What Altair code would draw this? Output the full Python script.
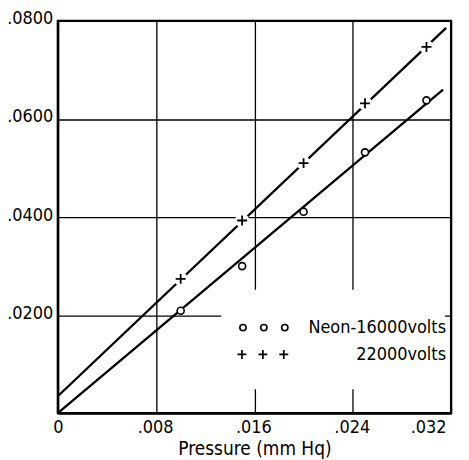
import altair as alt
import pandas as pd

# Measured data points (pressure in mm Hg)
pressure = [0.010, 0.015, 0.020, 0.025, 0.030]
neon_16000 = [0.0209, 0.0300, 0.0411, 0.0532, 0.0638]
neon_22000 = [0.0274, 0.0393, 0.0510, 0.0632, 0.0747]

# Fitted straight lines (end points)
fit16_x = [0.0, 0.03135]
fit16_y = [0.0, 0.0660]
fit22_x = [0.0, 0.0316]
fit22_y = [0.00345, 0.0786]

x_ticks = [0, 0.008, 0.016, 0.024, 0.032]
y_ticks = [0.02, 0.04, 0.06, 0.08]

legend_labels = ["Neon-16000volts", "22000volts"]

FONT = "'DejaVu Sans Condensed', 'Liberation Sans Narrow', 'DejaVu Sans', sans-serif"
PLUS = "M-1,0L1,0M0,-1L0,1"

pts = pd.DataFrame({"p": pressure, "a": neon_16000, "b": neon_22000})
l16 = pd.DataFrame({"p": fit16_x, "v": fit16_y})
l22 = pd.DataFrame({"p": fit22_x, "v": fit22_y})
mask = pd.DataFrame({"x": [0.0133], "x2": [0.0315], "y": [0.0049], "y2": [0.0252]})

xscale = alt.Scale(domain=[0, 0.032], nice=False, zero=True)
yscale = alt.Scale(domain=[0, 0.08], nice=False, zero=True)

xaxis = alt.Axis(
    values=x_ticks, title="Pressure (mm Hq)",
    labelExpr="datum.value == 0 ? '0' : replace(format(datum.value, '.3f'), '0.', '.')",
    grid=True, ticks=False, labelPadding=5,
    labelOffset={"condition": {"test": "datum.value > 0.031 || datum.value == 0", "value": -5}, "value": -1},
    titlePadding=3,
)
yaxis = alt.Axis(
    values=y_ticks, title=None,
    labelExpr="replace(format(datum.value, '.4f'), '0.', '.')",
    grid=True, ticks=False, labelPadding=5, labelOffset=-2,
)

base = alt.Chart(pts)

grid_layer = alt.Chart(mask).mark_rect(color="white").encode(
    x=alt.X("x:Q", scale=xscale, axis=xaxis),
    x2="x2:Q",
    y=alt.Y("y:Q", scale=yscale, axis=yaxis),
    y2="y2:Q",
)

line16 = alt.Chart(l16).mark_line(color="black", strokeWidth=2.3).encode(
    x=alt.X("p:Q", scale=xscale), y=alt.Y("v:Q", scale=yscale)
)
line22 = alt.Chart(l22).mark_line(color="black", strokeWidth=2.3).encode(
    x=alt.X("p:Q", scale=xscale), y=alt.Y("v:Q", scale=yscale)
)

halo22 = base.mark_point(shape="circle", filled=True, color="white", size=200, opacity=1).encode(
    x=alt.X("p:Q", scale=xscale), y=alt.Y("b:Q", scale=yscale)
)
plus22 = base.mark_point(shape=PLUS, color="black", size=100, strokeWidth=1.8, opacity=1).encode(
    x=alt.X("p:Q", scale=xscale), y=alt.Y("b:Q", scale=yscale)
)
circ16 = base.mark_point(shape="circle", fill="white", filled=True, stroke="black",
                         strokeWidth=1.6, size=50, opacity=1).encode(
    x=alt.X("p:Q", scale=xscale), y=alt.Y("a:Q", scale=yscale)
)

# Hand-made legend (pixel positions inside the plot area)
leg_c = pd.DataFrame({"px": [186, 207, 228], "py": [308, 308, 308]})
leg_p = pd.DataFrame({"px": [185, 206, 227], "py": [335, 335, 335]})
leg_t = pd.DataFrame({"px": [390, 390], "py": [308, 336], "t": legend_labels})

legc = alt.Chart(leg_c).mark_point(shape="circle", fill="white", filled=True, stroke="black",
                                   strokeWidth=1.6, size=40, opacity=1).encode(
    x=alt.X("px:Q", scale=None), y=alt.Y("py:Q", scale=None)
)
legp = alt.Chart(leg_p).mark_point(shape=PLUS, color="black", size=80, strokeWidth=1.7, opacity=1).encode(
    x=alt.X("px:Q", scale=None), y=alt.Y("py:Q", scale=None)
)
legt = alt.Chart(leg_t).mark_text(align="right", baseline="middle", font=FONT, fontSize=18,
                                  color="black").encode(
    x=alt.X("px:Q", scale=None), y=alt.Y("py:Q", scale=None), text="t:N"
)

chart = alt.layer(grid_layer, line16, line22, halo22, plus22, circ16, legc, legp, legt).properties(
    width=395, height=394,
    background="white",
    autosize=alt.AutoSizeParams(type="none"),
    padding={"left": 50, "top": 12, "right": 10, "bottom": 46},
).configure_view(
    stroke="black", strokeWidth=2.2
).configure_axis(
    domainColor="black", domainWidth=2.2,
    gridColor="black", gridWidth=1.3, gridOpacity=1,
    labelFont=FONT, labelFontSize=18, labelColor="black",
    titleFont=FONT, titleFontSize=19, titleFontWeight="normal", titleColor="black",
)

chart.save("out.html", embed_options={"renderer": "svg", "actions": False})
